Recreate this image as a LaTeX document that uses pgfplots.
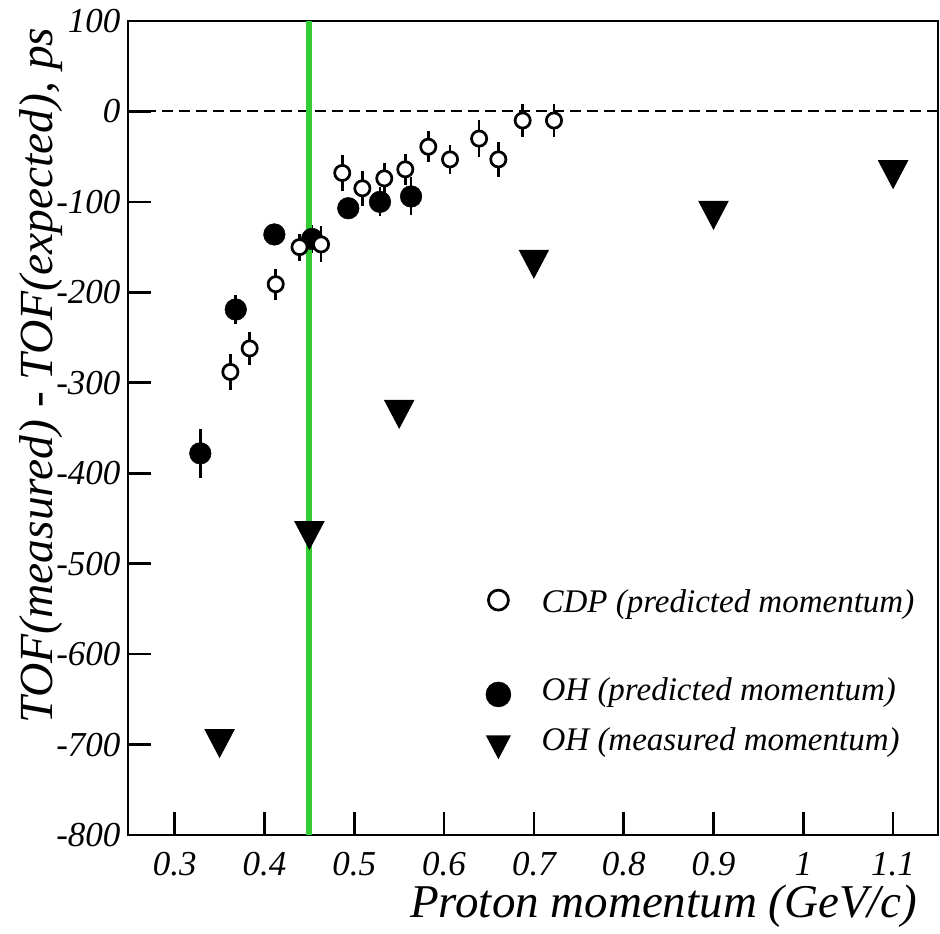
\documentclass[border=0pt]{standalone}
\usepackage{fontspec}
\setmainfont{Liberation Serif}[ItalicFont={Liberation Serif Italic}]
\usepackage{pgfplots}
\pgfplotsset{compat=1.18}
\definecolor{lgreen}{RGB}{51,204,51}

\pgfdeclareplotmark{tridown}{%
  \pgfpathmoveto{\pgfqpoint{-\pgfplotmarksize}{0.95\pgfplotmarksize}}%
  \pgfpathlineto{\pgfqpoint{\pgfplotmarksize}{0.95\pgfplotmarksize}}%
  \pgfpathlineto{\pgfqpoint{0pt}{-0.95\pgfplotmarksize}}%
  \pgfpathclose
  \pgfusepathqfill
}

\newcommand\tickfont{\fontsize{35bp}{40bp}\selectfont\itshape}
\newcommand\legfont{\fontsize{33bp}{40bp}\selectfont\itshape}
\newcommand\xlabfont{\fontsize{47bp}{52bp}\selectfont\itshape}
\newcommand\ylabfont{\fontsize{47.5bp}{55bp}\selectfont\itshape}
% legend text: baseline at the node centre
\newcommand\legtext[1]{\rule[-30bp]{0pt}{60bp}\smash{#1}}

\pgfplotsset{
  legaxis/.style={
    at={(0,0)}, anchor=south west,
    scale only axis, width=810bp, height=814bp,
    xmin=0.248, xmax=1.15, ymin=-800, ymax=100,
    hide axis,
    legend cell align=left,
  },
}

\pgfplotstableread{
x y e
0.362 -288 20
0.3835 -262 18
0.4125 -191 17
0.439 -150 15
0.463 -147 20
0.4866 -68 20
0.509 -85 19
0.5334 -74 17
0.5568 -64 17
0.5824 -39 17
0.6066 -53 16
0.639 -30 20
0.6604 -53 19
0.6875 -10 18
0.7224 -10 18
}\cdp

\pgfplotstableread{
x y e
0.3285 -378 27
0.368 -219 16
0.411 -136 8
0.453 -141 16
0.4933 -107 8
0.5286 -100 16
0.5632 -94 21
}\ohpred

\pgfplotstableread{
x y
0.35 -699
0.45 -469
0.55 -335
0.70 -169
0.90 -115
1.10 -70
}\ohmeas

\begin{document}
\begin{tikzpicture}
\begin{axis}[
  at={(0,0)}, anchor=south west,
  scale only axis, width=810bp, height=814bp,
  xmin=0.248, xmax=1.15, ymin=-800, ymax=100,
  axis line style={line width=2.7bp},
  tick align=inside, xtick pos=bottom, ytick pos=left,
  xtick={0.3,0.4,0.5,0.6,0.7,0.8,0.9,1,1.1},
  xticklabels={0.3,0.4,0.5,0.6,0.7,0.8,0.9,1,1.1},
  ytick={-800,-700,-600,-500,-400,-300,-200,-100,0,100},
  yticklabels={-800,-700,-600,-500,-400,-300,-200,-100,0,100},
  minor tick num=0,
  major tick length=23bp,
  major tick style={line width=2.7bp, black},
  tick label style={font=\tickfont},
  xticklabel style={yshift=-14bp},
  yticklabel style={xshift=-4bp},
  xlabel={Proton momentum (GeV/c)},
  xlabel style={at={([xshift=-17bp,yshift=-82bp]axis description cs:1,0)}, anchor=base east, font=\xlabfont},
  ylabel={TOF(measured) - TOF(expected), ps},
  ylabel style={at={([xshift=-75bp,yshift=-3bp]axis description cs:0,1)}, anchor=base east, font=\ylabfont},
]
% zero line
\addplot[black, line width=2bp, dash pattern=on 11bp off 6bp] coordinates {(0.248,0) (1.15,0)};

% OH predicted momentum: error bars and filled circles
\addplot[draw=none, error bars/.cd, y dir=both, y explicit, error mark=none,
  error bar style={draw=black, solid, line width=2.7bp}] table[x=x, y=y, y error=e] {\ohpred};
\addplot[only marks, mark=*, mark size=10.8bp, mark options={draw=black, fill=black, line width=0.5bp}] table[x=x, y=y] {\ohpred};

% CDP predicted momentum: error bars and open circles
\addplot[draw=none, error bars/.cd, y dir=both, y explicit, error mark=none,
  error bar style={draw=black, solid, line width=2.7bp}] table[x=x, y=y, y error=e] {\cdp};
\addplot[only marks, mark=*, mark size=7.6bp, mark options={draw=black, fill=white, line width=2.7bp}] table[x=x, y=y] {\cdp};

% OH measured momentum: triangles
\addplot[only marks, mark=tridown, mark size=15.3bp, mark options={fill=black, draw=none}] table[x=x, y=y] {\ohmeas};

% green line
\addplot[lgreen, line width=6bp] coordinates {(0.45,-800) (0.45,100)};
\end{axis}

% legend, one entry per hidden axis so that each row sits where it does in the reference
\begin{axis}[legaxis,
  legend image code/.code={\draw[#1] plot coordinates {(0bp,-2bp)}; \path (-17bp,0bp) (41bp,0bp);},
  legend style={draw=none, fill=none, inner sep=0pt, at={(axis cs:0.6411,-538.1)}, anchor=west, font=\legfont}]
\addlegendimage{only marks, mark=*, mark size=10bp, mark options={draw=black, fill=white, line width=2.7bp}}
\addlegendentry{\legtext{CDP (predicted momentum)}}
\end{axis}
\begin{axis}[legaxis,
  legend image code/.code={\draw[#1] plot coordinates {(0bp,-8bp)}; \path (-17bp,0bp) (41bp,0bp);},
  legend style={draw=none, fill=none, inner sep=0pt, at={(axis cs:0.6411,-637.3)}, anchor=west, font=\legfont}]
\addlegendimage{only marks, mark=*, mark size=12.5bp, mark options={draw=black, fill=black, line width=0.5bp}}
\addlegendentry{\legtext{OH (predicted momentum)}}
\end{axis}
\begin{axis}[legaxis,
  legend image code/.code={\draw[#1] plot coordinates {(0bp,-11.5bp)}; \path (-17bp,0bp) (41bp,0bp);},
  legend style={draw=none, fill=none, inner sep=0pt, at={(axis cs:0.6411,-693.5)}, anchor=west, font=\legfont}]
\addlegendimage{only marks, mark=tridown, mark size=12.5bp, mark options={fill=black, draw=none}}
\addlegendentry{\legtext{OH (measured momentum)}}
\end{axis}
\pgfresetboundingbox
\path[use as bounding box] (-128bp,-99bp) rectangle (812bp,835bp);
\end{tikzpicture}
\end{document}
